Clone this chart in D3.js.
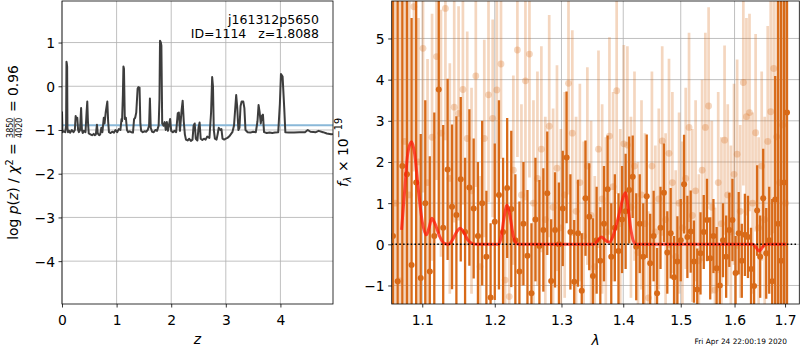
<!DOCTYPE html>
<html>
<head>
<meta charset="utf-8">
<script src="https://cdn.jsdelivr.net/npm/d3@7"></script>
<style>
  body { margin: 0; background: #fff; }
  text { font-family: "DejaVu Sans", sans-serif; }
</style>
</head>
<body>
<div id="chart"></div>
<script>
// p(z) curve
var pzZ = [0.000,0.008,0.03,0.06,0.075,0.082,0.088,0.094,0.100,0.11,0.13,0.15,0.18,0.21,0.235,0.25,0.265,0.28,0.295,0.31,0.33,0.35,0.365,0.38,0.40,0.43,0.45,0.463,0.475,0.49,0.52,0.55,0.58,0.60,0.62,0.64,0.655,0.68,0.70,0.72,0.74,0.765,0.78,0.80,0.83,0.845,0.86,0.89,0.92,0.95,0.98,1.01,1.04,1.07,1.09,1.10,1.115,1.125,1.135,1.15,1.17,1.19,1.21,1.24,1.27,1.30,1.32,1.34,1.36,1.385,1.40,1.42,1.435,1.45,1.48,1.51,1.54,1.57,1.595,1.61,1.625,1.65,1.68,1.71,1.74,1.77,1.785,1.795,1.81,1.82,1.835,1.86,1.88,1.90,1.92,1.94,1.96,1.98,2.00,2.03,2.06,2.09,2.12,2.14,2.16,2.19,2.21,2.23,2.25,2.27,2.30,2.33,2.36,2.39,2.41,2.43,2.45,2.48,2.50,2.52,2.54,2.57,2.60,2.63,2.66,2.70,2.73,2.75,2.765,2.78,2.80,2.83,2.85,2.87,2.90,2.92,2.94,2.97,3.00,3.03,3.06,3.09,3.12,3.15,3.19,3.21,3.23,3.25,3.27,3.29,3.32,3.34,3.36,3.40,3.45,3.50,3.55,3.58,3.60,3.62,3.64,3.66,3.68,3.70,3.75,3.80,3.85,3.90,3.96,3.99,4.01,4.04,4.07,4.09,4.15,4.25,4.35,4.45,4.50,4.55,4.65,4.70,4.78,4.85,4.93,4.96];
var pzLog = [-0.58,-1.05,-1.03,-1.05,-0.9,0.56,0.52,0.45,-0.95,-1.05,-1.02,-1.06,-1.0,-1.05,-1.0,-0.68,-0.75,-0.72,-1.0,-1.05,-1.0,-0.5,-1.0,-1.07,-1.02,-1.05,-0.6,-0.35,-0.8,-1.08,-1.1,-1.12,-1.09,-1.12,-1.1,-0.88,-1.08,-1.12,-1.1,-0.95,-1.05,-0.72,-0.85,-0.6,-0.35,-0.8,-1.05,-1.07,-1.04,-1.06,-1.0,-1.05,-0.98,-1.0,-0.75,-0.8,-0.2,0.45,0.4,-0.75,-0.72,-1.0,-1.05,-1.03,-1.05,-1.06,-0.75,-0.72,-0.6,-0.05,-0.02,-0.03,-0.85,-1.02,-1.05,-1.03,-1.04,-1.0,-0.9,-0.28,-0.95,-1.04,-1.05,-1.0,-1.02,-0.9,-0.3,1.04,1.0,0.93,-0.85,-0.9,-0.82,-1.0,-0.82,-1.02,-0.88,-0.75,-1.02,-1.05,-1.02,-1.05,-0.62,-0.6,-1.02,-0.55,-0.33,-0.8,-1.1,-1.22,-1.24,-1.2,-1.25,-1.22,-0.9,-0.85,-1.2,-1.24,-0.95,-0.83,-1.2,-1.23,-1.2,-1.22,-1.15,-1.18,-0.6,0.21,0.0,-1.0,-1.2,-1.22,-1.1,-0.95,-1.0,-0.98,-1.2,-1.22,-1.2,-1.18,-1.15,-1.1,-1.05,-0.9,-0.2,-0.5,-1.0,-0.95,-0.45,-0.35,-0.35,-0.5,-1.0,-1.05,-1.06,-1.04,-1.05,-0.8,-0.43,-0.6,-0.85,-0.68,-0.65,-1.05,-1.07,-1.06,-1.07,-1.06,-1.05,-0.4,0.28,0.22,-0.5,-1.05,-1.06,-1.06,-1.05,-1.05,-1.0,-1.04,-1.05,-1.02,-1.05,-1.08,-1.1,-1.09];
var pzThreshold = -0.89;

// spectrum, first orientation (dark)
var darkWave = [1.062,1.068,1.074,1.080,1.086,1.092,1.098,1.104,1.110,1.116,1.122,1.128,1.134,1.140,1.146,1.152,1.158,1.164,1.170,1.176,1.182,1.188,1.194,1.200,1.206,1.212,1.218,1.224,1.230,1.236,1.242,1.248,1.254,1.260,1.266,1.272,1.278,1.284,1.290,1.296,1.302,1.308,1.314,1.320,1.326,1.332,1.338,1.344,1.350,1.356,1.362,1.368,1.374,1.380,1.386,1.392,1.398,1.404,1.410,1.416,1.422,1.428,1.434,1.440,1.446,1.452,1.458,1.464,1.470,1.476,1.482,1.488,1.494,1.500,1.506,1.512,1.518,1.524,1.530,1.536,1.542,1.548,1.554,1.560,1.566,1.572,1.578,1.584,1.590,1.596,1.602,1.608,1.614,1.620,1.626,1.632,1.638,1.644,1.650,1.656,1.662,1.668,1.674,1.680,1.686,1.692,1.698,1.704];
var darkFlux = [0.2,-0.9,1.9,1.7,-0.5,1.5,-0.82,1.0,-0.66,0.2,3.76,0.4,1.82,0.91,0.71,1.58,0.3,1.38,0.87,0.2,1.0,-0.3,-1.29,0.55,1.2,0.3,1.37,0.86,0.1,-0.66,0.5,-0.28,-1.19,0.6,-0.04,0.35,1.24,-0.89,0.35,0.0,0.87,2.11,0.3,-0.91,0.27,-1.13,1.12,0.67,-0.77,0.1,-0.4,0.5,1.34,-0.3,0.4,-0.16,0.6,0.8,1.32,1.64,-0.06,0.5,-0.3,1.17,-0.46,0.2,-1.19,0.4,1.25,-0.2,0.27,-0.8,-0.42,0.1,1.46,0.18,0.31,-0.42,-1.1,-0.22,0.3,0.59,-0.34,0.2,-0.58,-1.0,0.1,-0.3,0.35,0.59,-0.7,0.27,-0.4,0.23,0.18,-0.6,-1.01,0.82,-0.3,1.12,-0.22,0.1,-0.9,1.09,0.5,-0.4,1.5,3.2];
var darkErr = [9,8,7,8,6,5,3.5,2.5,2.8,3,3.5,2.5,2.2,2.0,2.4,2.0,1.8,1.9,1.7,1.8,2.0,1.6,1.8,1.9,2.3,1.8,1.7,1.9,1.6,1.7,1.5,1.6,1.7,1.5,1.6,1.5,1.5,1.5,1.4,1.5,1.4,1.6,1.4,1.5,1.3,1.4,1.4,1.3,1.4,1.3,1.3,1.4,1.3,1.3,1.3,1.4,1.3,1.4,1.3,1.0,1.3,1.2,1.3,1.5,1.2,1.1,1.1,1.0,1.2,1.0,1.1,1.0,1.1,1.0,1.2,1.0,1.0,1.0,1.0,1.0,0.9,1.0,1.0,0.9,1.0,1.0,0.9,1.0,0.9,1.0,0.9,1.0,0.9,1.0,1.0,1.0,1.0,1.1,1.0,1.2,1.1,1.3,2.0,3,6,7,8,9];

// spectrum, second orientation (light)
var lightWave = [1.065,1.071,1.077,1.083,1.089,1.095,1.101,1.107,1.113,1.119,1.125,1.131,1.137,1.143,1.149,1.155,1.161,1.167,1.173,1.179,1.185,1.191,1.197,1.203,1.209,1.215,1.221,1.227,1.233,1.239,1.245,1.251,1.257,1.263,1.269,1.275,1.281,1.287,1.293,1.299,1.305,1.311,1.317,1.323,1.329,1.335,1.341,1.347,1.353,1.359,1.365,1.371,1.377,1.383,1.389,1.395,1.401,1.407,1.413,1.419,1.425,1.431,1.437,1.443,1.449,1.455,1.461,1.467,1.473,1.479,1.485,1.491,1.497,1.503,1.509,1.515,1.521,1.527,1.533,1.539,1.545,1.551,1.557,1.563,1.569,1.575,1.581,1.587,1.593,1.599,1.605,1.611,1.617,1.623,1.629,1.635,1.641,1.647,1.653,1.659,1.665,1.671,1.677,1.683,1.689,1.695,1.701];
var lightFlux = [1.0,-0.89,2.5,1.2,5.77,2.0,4.76,1.5,2.6,4.56,2.7,5.73,1.6,3.33,3.18,3.76,2.57,1.3,4.09,-0.54,2.57,3.63,3.06,3.75,4.38,-0.87,-1.27,1.8,4.72,1.2,3.97,4.62,1.0,1.6,2.31,0.6,2.87,0.9,1.85,0.4,1.2,3.91,2.7,0.8,1.5,0.2,1.9,0.7,-0.54,2.31,1.1,0.3,2.63,1.4,3.73,0.5,2.44,2.41,0.9,1.9,-0.2,1.2,0.5,-1.3,1.9,0.3,1.1,2.51,0.6,2.21,1.5,-0.3,1.0,0.4,1.6,2.84,0.7,1.3,-0.4,1.8,2.84,3.36,0.9,-1.11,1.5,0.5,2.53,1.2,0.3,1.7,2.19,0.8,3.93,3.1,3.2,1.0,2.71,0.4,1.9,0.6,2.5,3.22,4.27,2.61,1.5,2.9,1.0];
var lightErr = [8,7,6,5,4,3.5,3.5,3,3,3,3,3.2,2.8,2.8,2.6,2.8,2.6,2.5,2.7,2.2,2.4,2.6,2.4,2.5,2.3,2.2,2.2,2.3,2.6,2.2,2.9,3.0,2.5,2.6,2.5,2.5,2.7,2.4,2.5,2.4,2.5,2.7,2.5,2.3,2.4,2.3,2.4,2.3,2.2,2.4,2.3,2.3,2.4,2.3,2.5,2.3,2.4,2.4,2.2,2.3,2.2,2.3,2.2,2.1,2.3,2.1,2.2,2.3,2.1,2.3,2.2,2.1,2.2,2.1,2.2,2.3,2.1,2.2,2.1,2.2,2.3,2.4,2.1,2.0,2.2,2.1,2.3,2.2,2.1,2.2,2.3,2.1,2.5,2.4,2.4,2.2,2.4,2.2,2.3,2.5,2.8,3,4,5,6,7,8];

// best-fit line model
var modelWave = [1.073,1.077,1.081,1.086,1.090,1.095,1.100,1.1055,1.109,1.1126,1.117,1.123,1.129,1.135,1.141,1.147,1.151,1.156,1.162,1.169,1.175,1.205,1.209,1.213,1.2178,1.222,1.227,1.232,1.236,1.352,1.358,1.364,1.370,1.3768,1.383,1.389,1.395,1.400,1.4037,1.408,1.413,1.418,1.422,1.636,1.642,1.6476,1.653,1.658,1.662,1.7024];
var modelFlux = [0.35,1.3,2.2,2.49,2.2,1.3,0.55,0.23,0.4,0.63,0.5,0.2,0.03,0.0,0.12,0.32,0.39,0.3,0.1,0.01,0.0,0.0,0.15,0.6,0.95,0.7,0.2,0.02,0.0,0.0,0.1,0.18,0.1,0.05,0.2,0.5,0.85,1.15,1.25,0.9,0.35,0.05,0.0,0.0,-0.08,-0.16,-0.1,-0.02,0.0,0.0];

var pzXTicks = [0, 1, 2, 3, 4];
var pzYTicks = [-4, -3, -2, -1, 0, 1];
var specXTicks = [1.1, 1.2, 1.3, 1.4, 1.5, 1.6, 1.7];
var specYTicks = [-1, 0, 1, 2, 3, 4, 5];

var width = 800, height = 350;
var orange = "#d86a18";
var fs = 13.9;

var svg = d3.select("#chart").append("svg")
    .attr("width", width)
    .attr("height", height);

var pzBox = {left: 62, right: 333, top: 1, bottom: 304};
var spBox = {left: 391.7, right: 799.3, top: 1, bottom: 304};

var xz = d3.scaleLinear().domain([0, 4.963]).range([pzBox.left, pzBox.right]);
var yz = d3.scaleLinear().domain([-4.98, 1.95]).range([pzBox.bottom, pzBox.top]);
var xl = d3.scaleLog().domain([1.0604, 1.7293]).range([spBox.left, spBox.right]);
var yf = d3.scaleLinear().domain([-1.45, 5.91]).range([spBox.bottom, spBox.top]);

// grid + ticks for one panel, returns a clipped group for the data
function panel(x, y, box, xt, yt, fmt, id) {
  svg.append("clipPath").attr("id", id)
    .append("rect")
      .attr("x", box.left).attr("y", box.top)
      .attr("width", box.right - box.left).attr("height", box.bottom - box.top);

  var grid = svg.append("g").attr("stroke", "#b0b0b0").attr("stroke-width", 0.8);
  grid.selectAll(".gx").data(xt).enter().append("line")
      .attr("x1", x).attr("x2", x)
      .attr("y1", box.top).attr("y2", box.bottom);
  grid.selectAll(".gy").data(yt).enter().append("line")
      .attr("x1", box.left).attr("x2", box.right)
      .attr("y1", y).attr("y2", y);

  var gx = svg.append("g")
      .attr("transform", "translate(0," + box.bottom + ")")
      .call(d3.axisBottom(x).tickValues(xt).tickFormat(fmt).tickSize(3.5).tickPadding(3.5));
  gx.selectAll("text").attr("y", 21).attr("dy", 0);

  var gy = svg.append("g")
      .attr("transform", "translate(" + box.left + ",0)")
      .call(d3.axisLeft(y).tickValues(yt).tickFormat(d3.format("d")).tickSize(3.5).tickPadding(3.5));
  gy.selectAll("text").attr("dy", "0.36em");

  [gx, gy].forEach(function(g) {
    g.select(".domain").remove();
    g.selectAll("text").attr("font-size", fs).attr("font-family", "DejaVu Sans").attr("fill", "#000");
    g.selectAll("line").attr("stroke", "#000").attr("stroke-width", 0.8);
  });
  return svg.append("g").attr("clip-path", "url(#" + id + ")");
}

function frame(box) {
  svg.append("rect")
      .attr("x", box.left).attr("y", box.top)
      .attr("width", box.right - box.left).attr("height", box.bottom - box.top)
      .attr("fill", "none").attr("stroke", "#000").attr("stroke-width", 0.8);
}

// ---- left: p(z) ----
var pzG = panel(xz, yz, pzBox, pzXTicks, pzYTicks, d3.format("d"), "clip-pz");

pzG.append("line")
    .attr("x1", pzBox.left).attr("x2", pzBox.right)
    .attr("y1", yz(pzThreshold)).attr("y2", yz(pzThreshold))
    .attr("stroke", "#8ab8d8").attr("stroke-width", 2);

pzG.append("path")
    .datum(d3.range(pzZ.length))
    .attr("fill", "none")
    .attr("stroke", "#3d3d3d")
    .attr("stroke-width", 2)
    .attr("stroke-linejoin", "round")
    .attr("d", d3.line().x(function(i) { return xz(pzZ[i]); }).y(function(i) { return yz(pzLog[i]); }));

frame(pzBox);

svg.append("text").attr("x", 319).attr("y", 24).attr("text-anchor", "end")
    .attr("font-size", 12.5).text("j161312p5650");
svg.append("text").attr("x", 319).attr("y", 38).attr("text-anchor", "end")
    .attr("font-size", 12.5).attr("xml:space", "preserve").text("ID=1114   z=1.8088");

// ---- right: spectrum ----
var spG = panel(xl, yf, spBox, specXTicks, specYTicks, d3.format(".1f"), "clip-sp");

function errorbars(wave, flux, err, color, alpha, lw, r) {
  var idx = d3.range(wave.length);
  var g = spG.append("g");
  g.selectAll("line").data(idx).enter().append("line")
      .attr("x1", function(i) { return xl(wave[i]); })
      .attr("x2", function(i) { return xl(wave[i]); })
      .attr("y1", function(i) { return yf(flux[i] - err[i]); })
      .attr("y2", function(i) { return yf(flux[i] + err[i]); })
      .attr("stroke", color).attr("stroke-opacity", alpha).attr("stroke-width", lw);
  g.selectAll("circle").data(idx).enter().append("circle")
      .attr("cx", function(i) { return xl(wave[i]); })
      .attr("cy", function(i) { return yf(flux[i]); })
      .attr("r", r)
      .attr("fill", color).attr("fill-opacity", alpha);
}

errorbars(lightWave, lightFlux, lightErr, orange, 0.28, 2.7, 3.4);
errorbars(darkWave, darkFlux, darkErr, orange, 1, 2.3, 3);

spG.append("path")
    .datum(d3.range(modelWave.length))
    .attr("fill", "none")
    .attr("stroke", "#ff1a0a")
    .attr("stroke-opacity", 0.75)
    .attr("stroke-width", 3)
    .attr("stroke-linejoin", "round")
    .attr("d", d3.line().curve(d3.curveMonotoneX)
        .x(function(i) { return xl(modelWave[i]); })
        .y(function(i) { return yf(modelFlux[i]); }));

spG.append("line")
    .attr("x1", spBox.left).attr("x2", spBox.right - 2)
    .attr("y1", yf(0)).attr("y2", yf(0))
    .attr("stroke", "#000").attr("stroke-width", 1.5)
    .attr("stroke-dasharray", "1.5,2.3");

frame(spBox);

// ---- axis labels ----
svg.append("text").attr("x", (pzBox.left + pzBox.right) / 2).attr("y", 344)
    .attr("text-anchor", "middle").attr("font-size", fs).attr("font-style", "italic").text("z");
svg.append("text").attr("x", (spBox.left + spBox.right) / 2).attr("y", 345)
    .attr("text-anchor", "middle").attr("font-size", fs).attr("font-style", "italic").text("λ");

// left y label with a small fraction
var ylz = svg.append("g").attr("transform", "translate(18," + (pzBox.top + pzBox.bottom) / 2 + ") rotate(-90)");
var ylzIn = ylz.append("g");
var t1 = ylzIn.append("text").attr("font-size", fs);
t1.append("tspan").text("log ");
t1.append("tspan").attr("font-style", "italic").text("p");
t1.append("tspan").text("(");
t1.append("tspan").attr("font-style", "italic").text("z");
t1.append("tspan").attr("xml:space", "preserve").text(") / ");
t1.append("tspan").attr("font-style", "italic").text("χ");
t1.append("tspan").attr("font-size", 9.7).attr("dy", -5.5).text("2");
t1.append("tspan").attr("dy", 5.5).attr("xml:space", "preserve").text(" = ");
var w1 = t1.node().getComputedTextLength() + 1;
var num = ylzIn.append("text").attr("font-size", 8).attr("y", -5.3).text("3850");
var fw = num.node().getComputedTextLength();
num.attr("x", w1);
ylzIn.append("text").attr("font-size", 8).attr("x", w1).attr("y", 3.6).text("4020");
ylzIn.append("line").attr("x1", w1).attr("x2", w1 + fw).attr("y1", -3.8).attr("y2", -3.8)
    .attr("stroke", "#000").attr("stroke-width", 0.6);
ylzIn.append("text").attr("font-size", fs).attr("x", w1 + fw + 1).attr("xml:space", "preserve").text(" = 0.96");
var bz = ylzIn.node().getBBox();
ylzIn.attr("transform", "translate(" + (-bz.x - bz.width / 2) + ",0)");

// right y label
var ylf = svg.append("g").attr("transform", "translate(347.5," + (spBox.top + spBox.bottom) / 2 + ") rotate(-90)");
var t2 = ylf.append("text").attr("font-size", fs);
t2.append("tspan").attr("font-style", "italic").text("f");
t2.append("tspan").attr("font-style", "italic").attr("font-size", 9.7).attr("dy", 3).text("λ");
t2.append("tspan").attr("dy", -3).attr("xml:space", "preserve").text(" × 10");
t2.append("tspan").attr("font-size", 9.7).attr("dy", -5.5).text("−19");
var bf = t2.node().getBBox();
t2.attr("transform", "translate(" + (-bf.x - bf.width / 2) + ",0)");

// timestamp
svg.append("text").attr("x", 787).attr("y", 344).attr("text-anchor", "end")
    .attr("font-size", 7.4).text("Fri Apr 24 22:00:19 2020");
</script>
</body>
</html>
